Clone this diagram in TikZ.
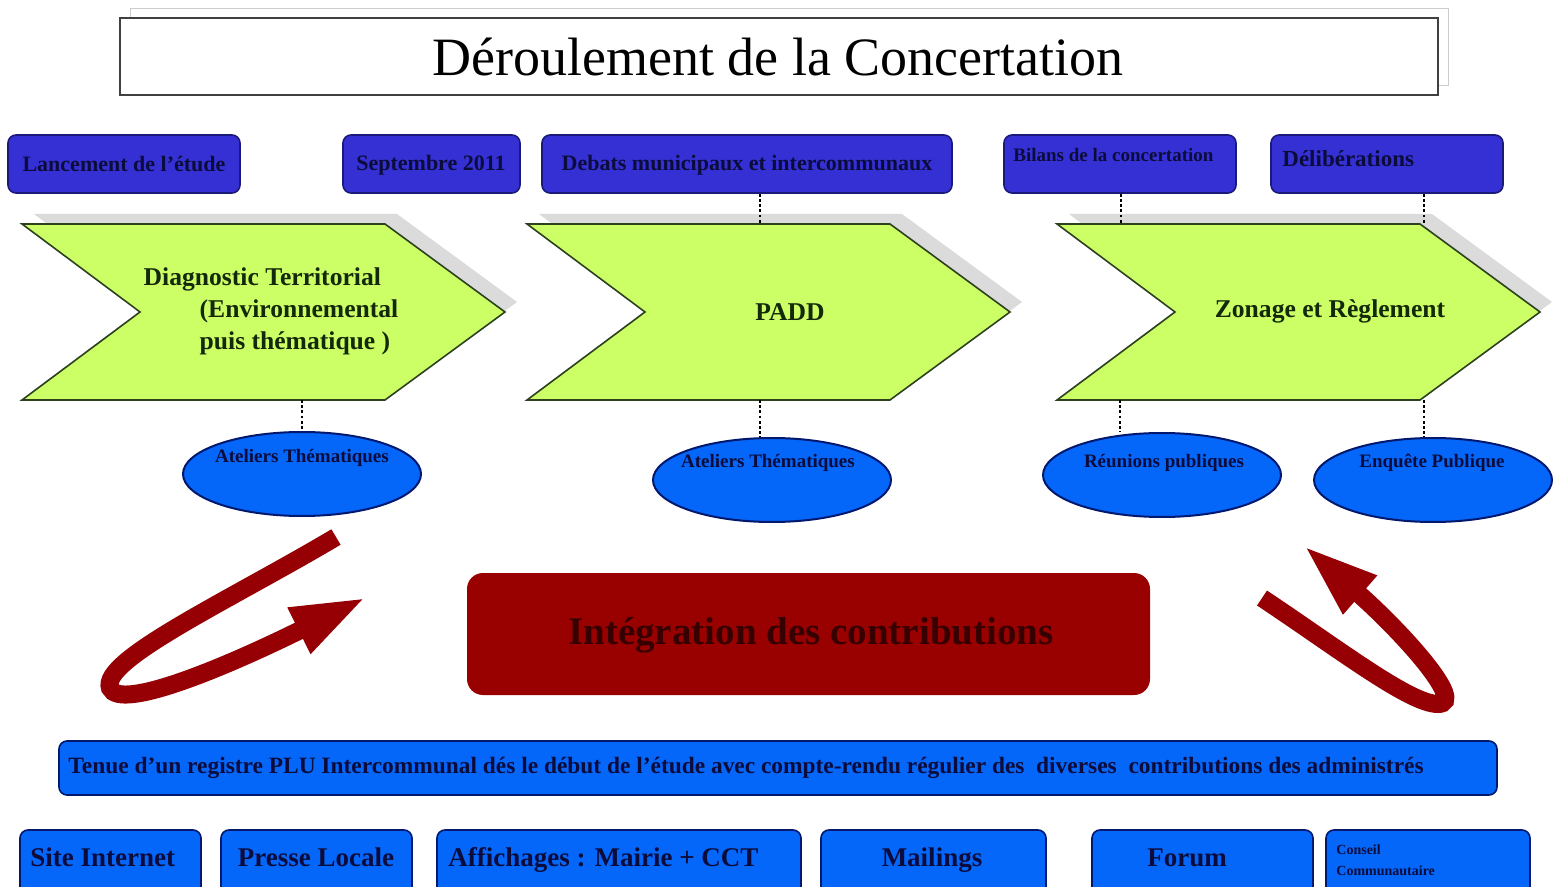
\documentclass[tikz,border=0pt]{standalone}
\usepackage{fontspec}
\setmainfont{Liberation Serif}
\usetikzlibrary{shapes.geometric,arrows.meta,fit}
\definecolor{topblue}{RGB}{52,48,212}
\definecolor{topedge}{RGB}{28,26,120}
\definecolor{ellblue}{RGB}{5,102,250}
\definecolor{elledge}{RGB}{0,25,110}
\definecolor{navytext}{RGB}{12,12,60}
\definecolor{chevgreen}{RGB}{204,255,102}
\definecolor{chevedge}{RGB}{45,65,30}
\definecolor{chevtext}{RGB}{20,40,10}
\definecolor{redfill}{RGB}{153,0,0}
\definecolor{redtext}{RGB}{55,0,0}
\definecolor{arrowred}{RGB}{150,0,5}

\begin{document}
\begin{tikzpicture}[x=0.5pt,y=-0.5pt,
  topbox/.style={draw=topedge,fill=topblue,rounded corners=4pt,line width=0.8pt,inner sep=0pt},
  toptext/.style={text=navytext,inner sep=0pt,anchor=base,font=\bfseries\fontsize{11}{13}\selectfont},
  bluebox/.style={draw=elledge,fill=ellblue,rounded corners=4pt,line width=0.8pt,inner sep=0pt},
  boxtext/.style={text=navytext,inner sep=0pt,anchor=base,font=\bfseries\fontsize{13.5}{16}\selectfont},
  ellbox/.style={ellipse,draw=elledge,fill=ellblue,line width=1pt,minimum width=119pt,minimum height=42pt,inner sep=0pt},
  elltext/.style={text=navytext,inner sep=0pt,anchor=base,font=\bfseries\fontsize{9.5}{11}\selectfont},
  chev/.style={fill=chevgreen,draw=chevedge,line width=0.8pt},
  chevshade/.style={fill=gray!28},
  chevlabel/.style={text=chevtext,font=\bfseries\fontsize{12.8}{16}\selectfont},
  dots/.style={line width=1.3pt,dash pattern=on 1.4pt off 1.2pt},
  bigarrow/.style={draw=arrowred,line width=9pt,-{Triangle[length=38pt,width=23pt]}}]

\useasboundingbox (0,0) rectangle (1553,887);
\clip (0,0) rectangle (1553,887);
\fill[white] (0,0) rectangle (1553,887);

% titre
\draw[gray!40] (130,8) rectangle (1448,85);
\node[draw=black!75,fill=white,line width=0.8pt,inner sep=0pt,fit={(120,18)(1438,95)}] (titre) {};
\node[font=\fontsize{27}{30}\selectfont,inner sep=0pt,anchor=base] (titre-t) at (778,76) {Déroulement de la Concertation};

% jalons
\node[topbox,fit={(8,135)(240,193)}] (lanc) {};
\node[topbox,fit={(343,135)(520,193)}] (sept) {};
\node[topbox,fit={(542,135)(952,193)}] (deb) {};
\node[topbox,fit={(1004,135)(1236,193)}] (bil) {};
\node[topbox,fit={(1271,135)(1503,193)}] (delib) {};
\node[toptext] (lanc-t) at (124,172) {Lancement de l'étude};
\node[toptext] (sept-t) at (431,171) {Septembre 2011};
\node[toptext] (deb-t) at (747,171) {Debats municipaux et intercommunaux};
\node[toptext,anchor=base west,font=\bfseries\fontsize{9.5}{11}\selectfont] (bil-t) at (1013,162) {Bilans de la concertation};
\node[toptext,anchor=base west,font=\bfseries\fontsize{11.5}{13}\selectfont] (delib-t) at (1282,167) {Délibérations};

% phases
\foreach \l in {22,527,1057}
{   \fill[chevshade] (\l+12,214) -- ++(363,0) -- ++(120,88) -- ++(-120,88) -- ++(-363,0) -- ++(118,-88) -- cycle;
    \draw[chev] (\l,224) -- ++(363,0) -- ++(120,88) -- ++(-120,88) -- ++(-363,0) -- ++(118,-88) -- cycle;
}
\node[chevlabel,align=left] (diag) at (271,311) {Diagnostic Territorial\\\hspace*{28pt}(Environnemental\\\hspace*{28pt}puis thématique )};
\node[chevlabel] (padd) at (790,312) {PADD};
\node[chevlabel] (zone) at (1330,311) {Zonage et Règlement};
\coordinate (padd-n) at (760,224);
\coordinate (zone-n1) at (1121,224);
\coordinate (zone-n2) at (1424,224);
\coordinate (diag-s) at (302,400);
\coordinate (padd-s) at (760,400);
\coordinate (zone-s1) at (1120,400);
\coordinate (zone-s2) at (1424,400);

% ateliers et reunions
\node[ellbox] (ell1) at (302,474) {};
\node[ellbox] (ell2) at (772,480) {};
\node[ellbox] (ell3) at (1162,475) {};
\node[ellbox] (ell4) at (1433,480) {};
\node[elltext] (ell1-t) at (302,463) {Ateliers Thématiques};
\node[elltext] (ell2-t) at (768,468) {Ateliers Thématiques};
\node[elltext] (ell3-t) at (1164,468) {Réunions publiques};
\node[elltext] (ell4-t) at (1432,468) {Enquête Publique};

\foreach \b/\c in {deb/padd-n,bil/zone-n1,delib/zone-n2}
    \draw[dots] (\c |- \b.south) -- (\c);
\foreach \c/\e in {diag-s/ell1,padd-s/ell2,zone-s1/ell3,zone-s2/ell4}
    \draw[dots] (\c) -- (\c |- \e.north);

% integration
\node[fill=redfill,rounded corners=8pt,inner sep=0pt,fit={(467,573)(1150,695)}] (integ) {};
\node[text=redtext,font=\bfseries\fontsize{19.5}{22}\selectfont,inner sep=0pt,anchor=base] (integ-t) at (811,644) {Intégration des contributions};
\draw[bigarrow] (336,537) .. controls (230,600) and (100,660) .. (110,688)
    .. controls (120,712) and (230,665) .. (367,597);
\draw[bigarrow] (1262,598) .. controls (1340,650) and (1410,704) .. (1438,704)
    .. controls (1468,704) and (1400,630) .. (1303,545);

% registre et supports
\node[bluebox,fit={(59,741)(1497,795)}] (reg) {};
\node[boxtext,anchor=base west,font=\bfseries\fontsize{11.7}{13}\selectfont] (reg-t) at (68,773)
  {Tenue d'un registre PLU Intercommunal dés le début de l'étude avec compte-rendu régulier des \ diverses \ contributions des administrés};

\node[bluebox,fit={(20,830)(201,905)}] (site) {};
\node[bluebox,fit={(221,830)(412,905)}] (presse) {};
\node[bluebox,fit={(437,830)(801,905)}] (affi) {};
\node[bluebox,fit={(821,830)(1046,905)}] (mail) {};
\node[bluebox,fit={(1092,830)(1313,905)}] (forum) {};
\node[bluebox,fit={(1326,830)(1530,905)}] (cons) {};
\node[boxtext,anchor=base west] (site-t) at (30,866) {Site Internet};
\node[boxtext] (presse-t) at (316,866) {Presse Locale};
\node[boxtext,anchor=base west] (affi-t) at (448,866) {Affichages : Mairie + CCT};
\node[boxtext] (mail-t) at (932,866) {Mailings};
\node[boxtext] (forum-t) at (1187,866) {Forum};
\node[anchor=west,align=left,inner sep=0pt,text=navytext,font=\bfseries\fontsize{7}{10.5}\selectfont] (cons-t) at (1336,860) {Conseil\\Communautaire};
\end{tikzpicture}
\end{document}
